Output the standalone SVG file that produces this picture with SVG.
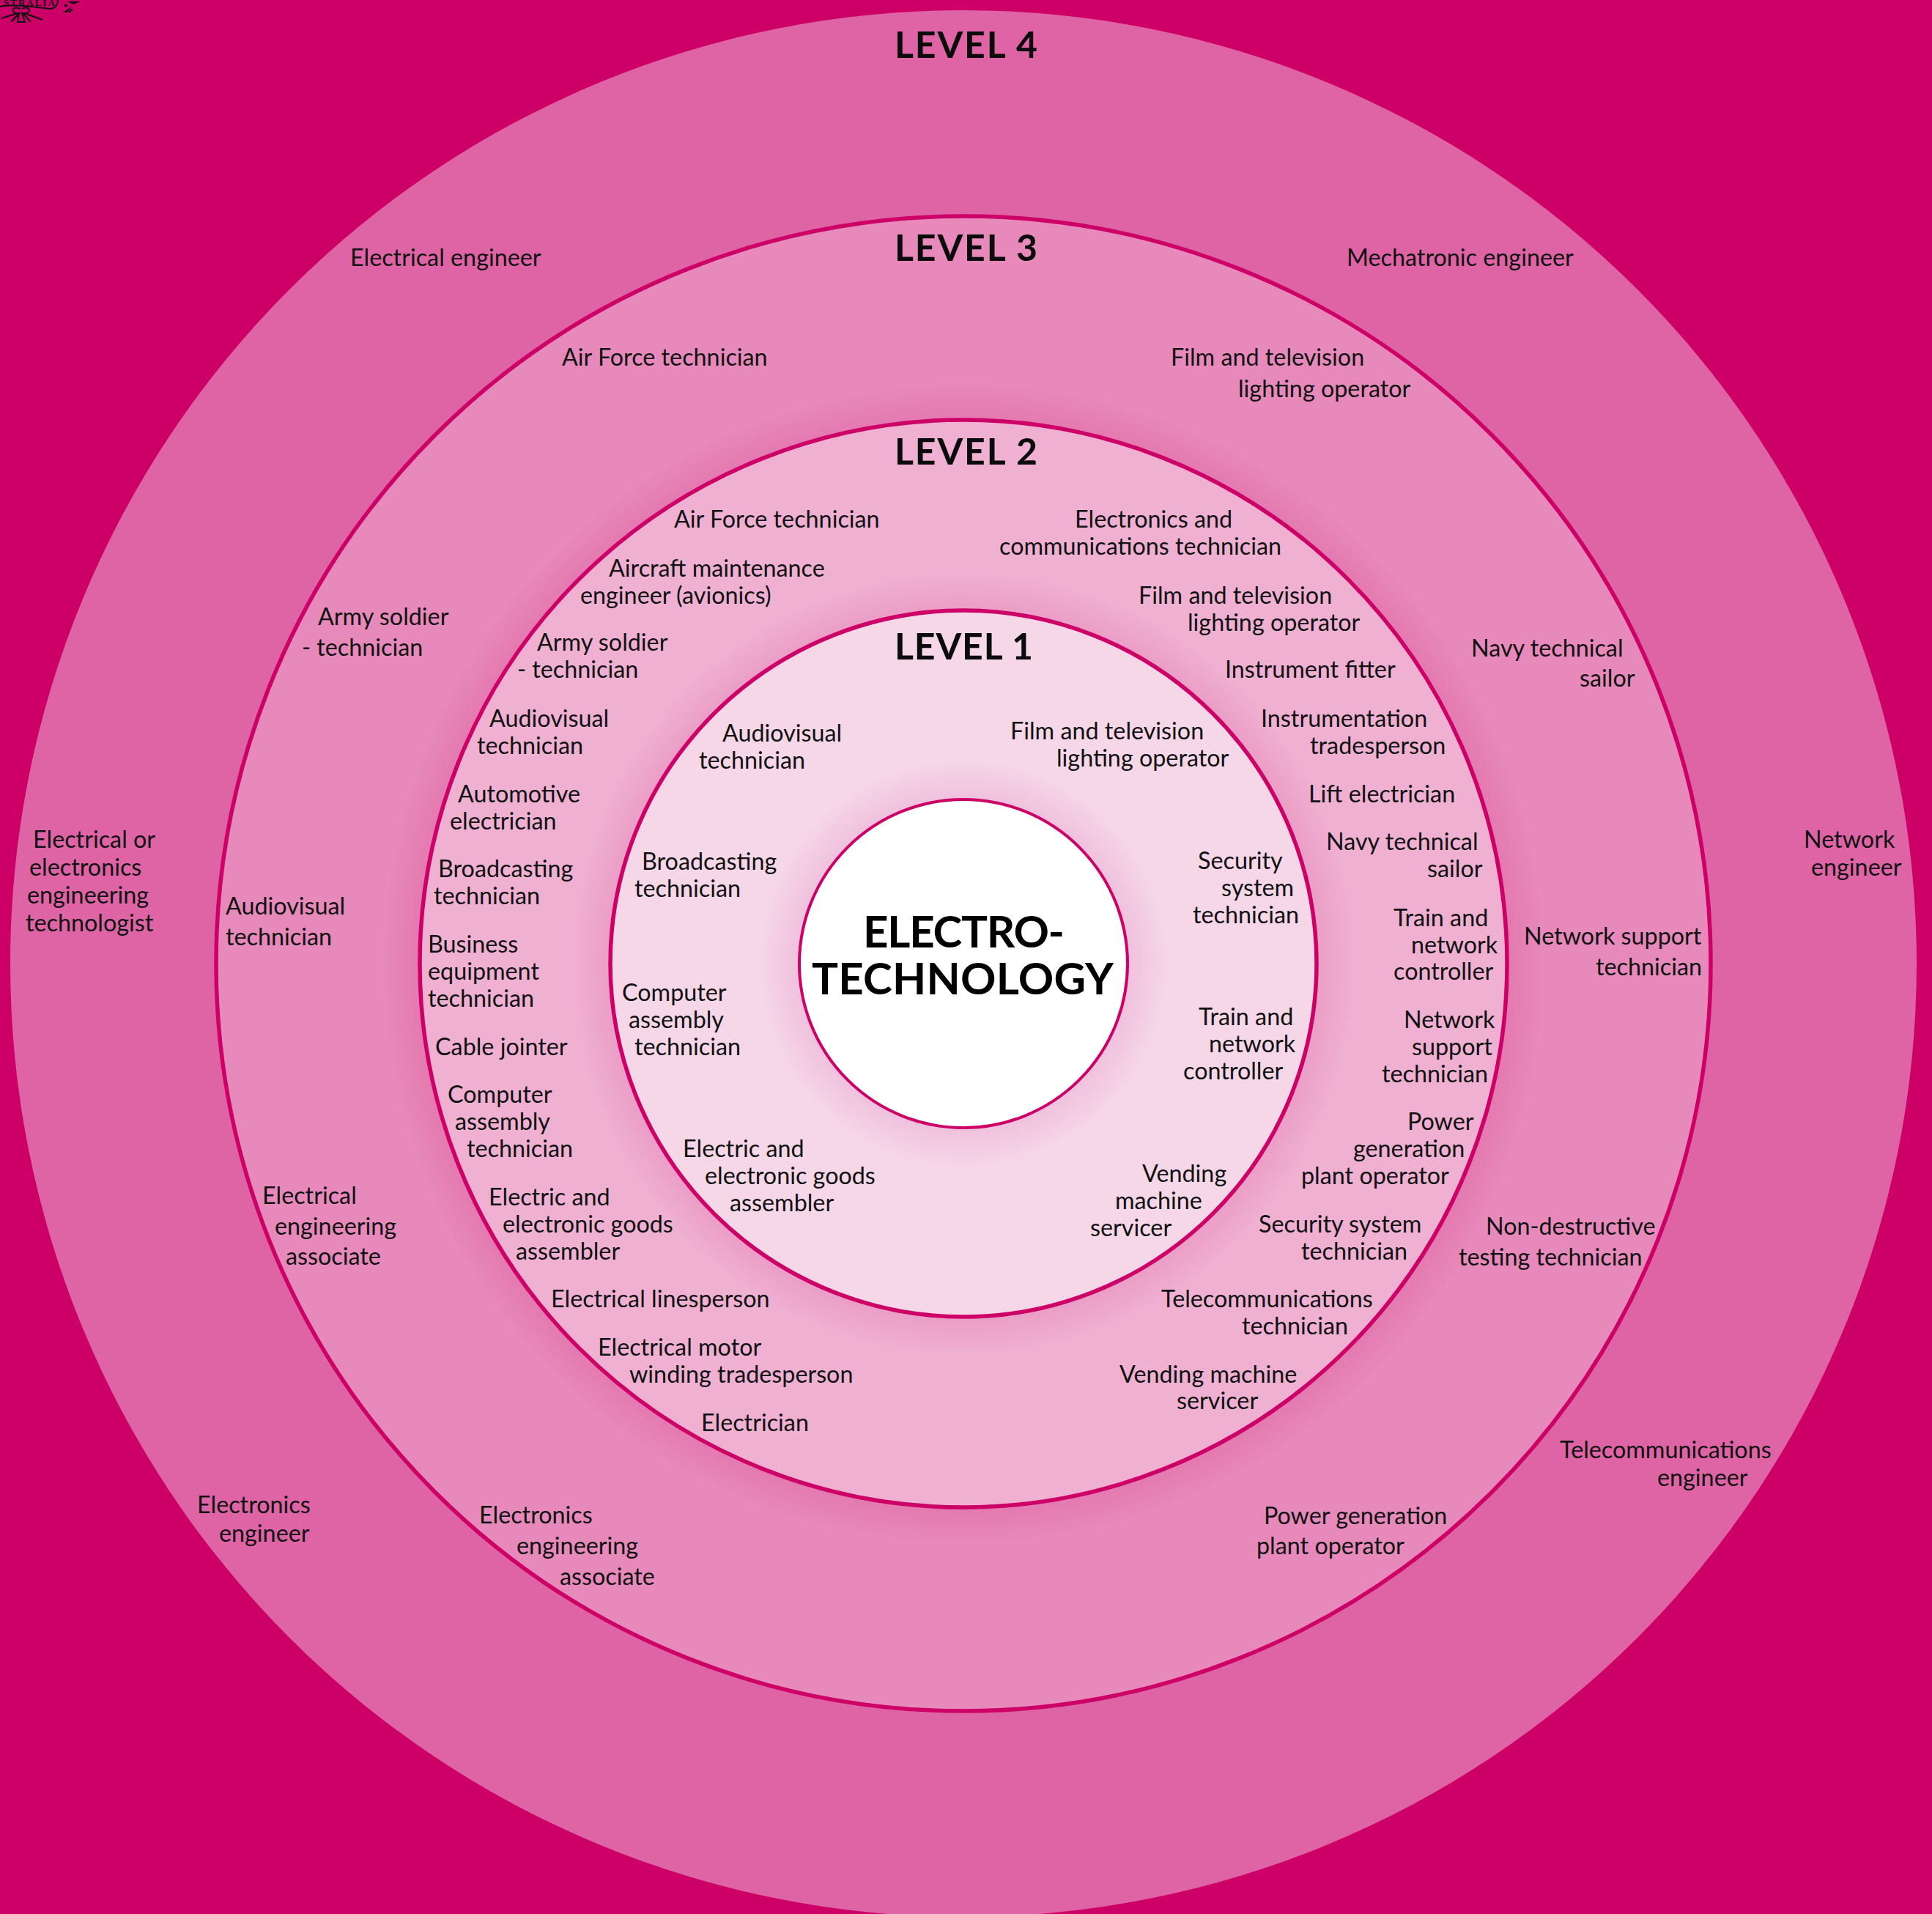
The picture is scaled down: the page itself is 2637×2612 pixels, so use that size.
<svg xmlns="http://www.w3.org/2000/svg" width="2637" height="2612" viewBox="0 0 2637 2612">
<style>
.l{font-family:Lato,"Liberation Sans",sans-serif;font-size:32.3px;fill:#111}
.h{font-family:Lato,"Liberation Sans",sans-serif;font-weight:700;font-size:50px;fill:#0b0b0b}
.t{font-family:Lato,"Liberation Sans",sans-serif;font-weight:700;font-size:60px;fill:#000}
.r{stroke:#cc0066;stroke-width:5.5}
.c{fill:none;stroke:#111;stroke-width:2}
</style>
<defs>
<radialGradient id="h2" gradientUnits="userSpaceOnUse" cx="1315" cy="1315" r="792"><stop offset=".937" stop-color="#cc0066" stop-opacity=".12"/><stop offset="1" stop-color="#cc0066" stop-opacity="0"/></radialGradient>
<radialGradient id="h1" gradientUnits="userSpaceOnUse" cx="1315" cy="1315" r="534"><stop offset=".903" stop-color="#cc0066" stop-opacity=".11"/><stop offset="1" stop-color="#cc0066" stop-opacity="0"/></radialGradient>
<radialGradient id="h0" gradientUnits="userSpaceOnUse" cx="1315" cy="1315" r="280"><stop offset=".8" stop-color="#c0088a" stop-opacity=".11"/><stop offset="1" stop-color="#c0088a" stop-opacity="0"/></radialGradient>
</defs>
<rect width="2637" height="2612" fill="#cc0066"/>
<g id="crest">
<text x="5" y="8" font-family="Liberation Serif,serif" font-weight="700" font-size="13" letter-spacing="2" fill="#111">STRALIA</text>
<path class="c" d="M0 9C20 5 50 10 68 12Q78 12 79 0"/>
<path class="c" d="M28 12C15 6 14 20 27 18L15 30M30 12C42 6 44 20 31 18L42 30M26 18L15 30M24 18L2 25M33 18L58 27M26 18L24 30H34L30 18"/>
<path d="M86 17L98 9L92 17ZM92 2L110 2L100 6ZM88 6h4v3h-4zM96 12h3v3h-3zM94 15h3v2h-3z" fill="#111"/>
</g>
<g id="level4"><circle cx="1315" cy="1315" r="1301" fill="#df64a5"/>
<text class="h" x="1221" y="79" textLength="195">LEVEL 4</text>
<text class="l" x="478" y="363">Electrical engineer</text>
<text class="l" x="1838" y="363">Mechatronic engineer</text>
<text class="l"><tspan x="45" y="1157">Electrical or</tspan><tspan x="40" y="1195">electronics</tspan><tspan x="37" y="1233">engineering</tspan><tspan x="35" y="1271">technologist</tspan></text>
<text class="l"><tspan x="2462" y="1157">Network</tspan><tspan x="2472" y="1195">engineer</tspan></text>
<text class="l"><tspan x="269" y="2065">Electronics</tspan><tspan x="299" y="2104">engineer</tspan></text>
<text class="l"><tspan x="2129" y="1990">Telecommunications</tspan><tspan x="2262" y="2028">engineer</tspan></text>
</g>
<g id="level3"><circle class="r" cx="1315" cy="1315" r="1020" fill="#e789ba"/><circle cx="1315" cy="1315" r="792" fill="url(#h2)"/>
<text class="h" x="1221" y="356" textLength="195">LEVEL 3</text>
<text class="l" x="767" y="499">Air Force technician</text>
<text class="l"><tspan x="1598" y="499">Film and television</tspan><tspan x="1690" y="542">lighting operator</tspan></text>
<text class="l"><tspan x="434" y="853">Army soldier</tspan><tspan x="412" y="895">- technician</tspan></text>
<text class="l"><tspan x="2008" y="896">Navy technical</tspan><tspan x="2156" y="937">sailor</tspan></text>
<text class="l"><tspan x="308" y="1248">Audiovisual</tspan><tspan x="308" y="1290">technician</tspan></text>
<text class="l"><tspan x="2080" y="1289">Network support</tspan><tspan x="2178" y="1331">technician</tspan></text>
<text class="l"><tspan x="358" y="1643">Electrical</tspan><tspan x="375" y="1685">engineering</tspan><tspan x="390" y="1726">associate</tspan></text>
<text class="l"><tspan x="2028" y="1685">Non-destructive</tspan><tspan x="1991" y="1727">testing technician</tspan></text>
<text class="l"><tspan x="654" y="2079">Electronics</tspan><tspan x="705" y="2121">engineering</tspan><tspan x="764" y="2163">associate</tspan></text>
<text class="l"><tspan x="1725" y="2080">Power generation</tspan><tspan x="1715" y="2121">plant operator</tspan></text>
</g>
<g id="level2"><circle class="r" cx="1315" cy="1315" r="742" fill="#efb0d2"/><circle cx="1315" cy="1315" r="534" fill="url(#h1)"/>
<text class="h" x="1221" y="634" textLength="195">LEVEL 2</text>
<text class="l" x="920" y="720">Air Force technician</text>
<text class="l"><tspan x="1467" y="720">Electronics and</tspan><tspan x="1364" y="757">communications technician</tspan></text>
<text class="l"><tspan x="831" y="787">Aircraft maintenance</tspan><tspan x="792" y="824">engineer (avionics)</tspan></text>
<text class="l"><tspan x="1554" y="824">Film and television</tspan><tspan x="1621" y="861">lighting operator</tspan></text>
<text class="l"><tspan x="733" y="888">Army soldier</tspan><tspan x="706" y="925">- technician</tspan></text>
<text class="l" x="1672" y="925">Instrument fitter</text>
<text class="l"><tspan x="668" y="992">Audiovisual</tspan><tspan x="651" y="1029">technician</tspan></text>
<text class="l"><tspan x="1721" y="992">Instrumentation</tspan><tspan x="1788" y="1029">tradesperson</tspan></text>
<text class="l"><tspan x="625" y="1095">Automotive</tspan><tspan x="614" y="1132">electrician</tspan></text>
<text class="l" x="1786" y="1095">Lift electrician</text>
<text class="l"><tspan x="598" y="1197">Broadcasting</tspan><tspan x="592" y="1234">technician</tspan></text>
<text class="l"><tspan x="1810" y="1160">Navy technical</tspan><tspan x="1948" y="1197">sailor</tspan></text>
<text class="l"><tspan x="584" y="1300">Business</tspan><tspan x="584" y="1337">equipment</tspan><tspan x="584" y="1374">technician</tspan></text>
<text class="l"><tspan x="1902" y="1264">Train and</tspan><tspan x="1926" y="1301">network</tspan><tspan x="1902" y="1337">controller</tspan></text>
<text class="l" x="594" y="1440">Cable jointer</text>
<text class="l"><tspan x="1916" y="1403">Network</tspan><tspan x="1927" y="1440">support</tspan><tspan x="1886" y="1477">technician</tspan></text>
<text class="l"><tspan x="611" y="1505">Computer</tspan><tspan x="621" y="1542">assembly</tspan><tspan x="637" y="1579">technician</tspan></text>
<text class="l"><tspan x="1921" y="1542">Power</tspan><tspan x="1847" y="1579">generation</tspan><tspan x="1776" y="1616">plant operator</tspan></text>
<text class="l"><tspan x="667" y="1645">Electric and</tspan><tspan x="686" y="1682">electronic goods</tspan><tspan x="704" y="1719">assembler</tspan></text>
<text class="l"><tspan x="1718" y="1682">Security system</tspan><tspan x="1776" y="1719">technician</tspan></text>
<text class="l" x="752" y="1784">Electrical linesperson</text>
<text class="l"><tspan x="1585" y="1784">Telecommunications</tspan><tspan x="1695" y="1821">technician</tspan></text>
<text class="l"><tspan x="816" y="1850">Electrical motor</tspan><tspan x="859" y="1887">winding tradesperson</tspan></text>
<text class="l"><tspan x="1528" y="1887">Vending machine</tspan><tspan x="1606" y="1923">servicer</tspan></text>
<text class="l" x="957" y="1953">Electrician</text>
</g>
<g id="level1"><circle class="r" cx="1315" cy="1315" r="482" fill="#f6d7e8"/><circle cx="1315" cy="1315" r="280" fill="url(#h0)"/>
<text class="h" x="1221" y="900" textLength="189">LEVEL 1</text>
<text class="l"><tspan x="986" y="1012">Audiovisual</tspan><tspan x="954" y="1049">technician</tspan></text>
<text class="l"><tspan x="1379" y="1009">Film and television</tspan><tspan x="1442" y="1046">lighting operator</tspan></text>
<text class="l"><tspan x="876" y="1187">Broadcasting</tspan><tspan x="866" y="1224">technician</tspan></text>
<text class="l"><tspan x="1635" y="1186">Security</tspan><tspan x="1667" y="1223">system</tspan><tspan x="1628" y="1260">technician</tspan></text>
<text class="l"><tspan x="849" y="1366">Computer</tspan><tspan x="858" y="1403">assembly</tspan><tspan x="866" y="1440">technician</tspan></text>
<text class="l"><tspan x="1636" y="1399">Train and</tspan><tspan x="1650" y="1436">network</tspan><tspan x="1615" y="1473">controller</tspan></text>
<text class="l"><tspan x="932" y="1579">Electric and</tspan><tspan x="962" y="1616">electronic goods</tspan><tspan x="996" y="1653">assembler</tspan></text>
<text class="l"><tspan x="1559" y="1613">Vending</tspan><tspan x="1522" y="1650">machine</tspan><tspan x="1488" y="1687">servicer</tspan></text>
</g>
<g id="core"><circle cx="1315" cy="1315" r="224" fill="#fff" stroke="#cc0066" stroke-width="4"/>
<text class="t" x="1178" y="1293" textLength="275">ELECTRO-</text>
<text class="t" x="1108" y="1357" textLength="412">TECHNOLOGY</text>
</g>
<g id="connectors"/>
</svg>
